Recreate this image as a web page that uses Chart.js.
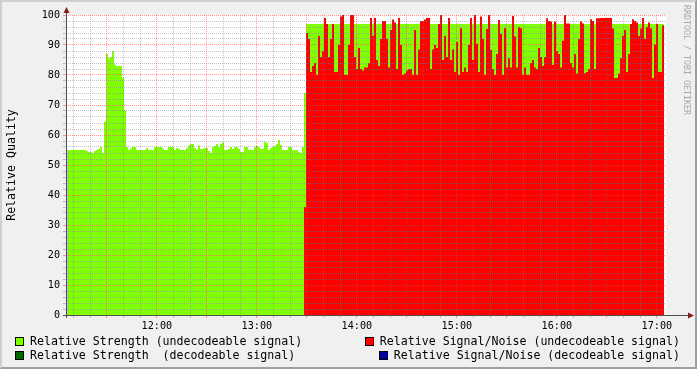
<!DOCTYPE html>
<html>
<head>
<meta charset="utf-8">
<script src="https://cdn.jsdelivr.net/npm/chart.js@4/dist/chart.umd.min.js"></script>
<style>
  body { margin: 0; background: #f0f0f0; }
  #wrap { position: relative; width: 697px; height: 369px; overflow: hidden; }
  #chart { position: absolute; left: 0; top: 0; }
  #frame { position: absolute; left: 0; top: 0; width: 697px; height: 369px; box-sizing: border-box;
           border: 2px solid; border-color: #cfcfcf #9e9e9e #9e9e9e #cfcfcf; pointer-events: none; }
  .lg { position: absolute; display: flex; align-items: center; height: 14px;
        font: 11.6px "DejaVu Sans Mono", monospace; white-space: pre; color: #000; }
  .lg i { display: inline-block; width: 7px; height: 7px; border: 1px solid #000; margin-right: 6px; }
  #mark { position: absolute; left: 687px; top: 60px; transform: translate(-50%, -50%) rotate(90deg);
          font: 8.3px "DejaVu Sans Mono", monospace; color: #a8a8a8; white-space: pre; }
</style>
</head>
<body>
<div id="wrap">
  <canvas id="chart" width="697" height="369"></canvas>
  <div class="lg" style="left:15px;top:334px"><i style="background:#7fff00"></i>Relative Strength (undecodeable signal)</div>
  <div class="lg" style="right:17px;top:334px"><i style="background:#ff0000"></i>Relative Signal/Noise (undecodeable signal)</div>
  <div class="lg" style="left:15px;top:348px"><i style="background:#006400"></i>Relative Strength  (decodeable signal)</div>
  <div class="lg" style="right:17px;top:348px"><i style="background:#000099"></i>Relative Signal/Noise (decodeable signal)</div>
  <div id="mark">RRDTOOL / TOBI OETIKER</div>
  <div id="frame"></div>
</div>
<script>
// time in minutes after midnight, one sample every 72 s
const t0 = 665.5;
const step = 1.2;

// relative strength, undecodeable signal, up to the switch at ~13:28
const strengthEarly = [
  55, 55, 55, 55, 55, 55, 55, 55, 55, 55, 54.7, 54.3, 54.3, 54, 54.7, 55, 55.3, 56, 54,
  64.4, 87, 85.6, 86, 88, 83.5, 83, 83, 83, 79, 68.3,
  56, 55, 55.5, 56, 56, 55, 55, 55, 55, 55,
  55.7, 55, 55, 55, 56, 56, 56, 56, 55.5, 55,
  55, 56, 56, 56, 55, 55.7, 55.3, 55, 55, 55,
  55.7, 56.5, 57, 57, 55.7, 55, 56.5, 55.3, 55.3, 55.7,
  55.7, 54.7, 54, 56, 56.3, 57, 56, 57, 57.5, 55,
  55, 55.3, 56, 55.3, 56, 56, 55.3, 54.3, 54.3, 56,
  56, 55, 55, 55, 56, 56.3, 56, 55.3, 55.5, 57.7,
  57.3, 55, 55.7, 56, 56.3, 57, 58.3, 56.7, 55, 55,
  55, 56, 56, 55, 55, 55, 54.3, 54, 56,
  74
];
// after the switch the strength sits flat at this level until the end
const strengthLate = 97;

// relative signal/noise, undecodeable signal, starts at sample 119
const snrStartIndex = 119;
const snrValues = [
  36,
  94, 92, 81, 83, 84, 80, 93, 86, 88, 99, 97, 86, 92, 97, 81, 81, 90, 99.5, 100, 80,
  80, 90, 100, 100, 86, 82, 89, 82, 81.5, 82.5, 82.5, 84, 99, 93, 99, 85, 83, 92, 98, 98,
  92, 82.5, 95, 98.5, 97.5, 82, 99,
  90, 80, 80.5, 81.5, 82, 82, 80, 95, 80, 88.5, 98, 98, 98.5, 99, 99, 82, 88.5, 90, 89, 97,
  100, 85, 93, 86, 99, 85, 88.5, 81, 91, 80, 95.6, 81, 82.5, 81, 90, 99, 85, 100, 90.4, 81,
  99.5, 92, 80, 95.3, 100, 88.3, 82, 80, 87, 98.3,
  93.7, 80, 95.6, 82.5, 85.6, 82.5, 99.7, 92.8, 82.5, 95.9, 95.6, 80, 82.5, 80, 80, 84, 85, 82.5, 82, 89,
  86, 83, 86, 98.9, 98, 97.8, 83.3, 97.8, 88, 87, 82.5, 91.4, 100, 97.2, 97.2, 84, 82.5, 87, 80.5, 92,
  97.8, 97.2, 80.6, 81, 82, 98.6, 98, 82, 98.9, 98.9,
  99, 99, 99, 99, 99, 99, 95.5, 79, 79, 80.5, 85.6, 93, 95, 81, 87, 97, 98.6, 98, 97.5, 93,
  95.5, 99, 92, 96, 97.5, 95.5, 79, 90.2, 97, 81, 81, 96.5
];

// decodeable signal: nothing was decoded in this window
const strengthDecoded = [];
const snrDecoded = [];

const hourLabels = ['12:00', '13:00', '14:00', '15:00', '16:00', '17:00'];
const seriesLabels = [
  'Relative Strength (undecodeable signal)',
  'Relative Signal/Noise (undecodeable signal)',
  'Relative Strength  (decodeable signal)',
  'Relative Signal/Noise (decodeable signal)'
];

const tEnd = t0 + (snrStartIndex + snrValues.length) * step;

const strengthPts = strengthEarly.map((v, i) => ({ x: t0 + i * step, y: v }));
strengthPts.push({ x: t0 + strengthEarly.length * step, y: strengthLate });
strengthPts.push({ x: tEnd, y: strengthLate });

const snrPts = snrValues.map((v, i) => ({ x: t0 + (snrStartIndex + i) * step, y: v }));
snrPts.push({ x: tEnd, y: snrValues[snrValues.length - 1] });

const hourMinutes = hourLabels.map(s => {
  const [h, m] = s.split(':').map(Number);
  return h * 60 + m;
});

const xGrid = [];
for (let m = Math.ceil(t0 / 10) * 10; m <= t0 + 360; m += 10) xGrid.push(m);
const yGrid = [];
for (let v = 0; v <= 100; v += 2) yGrid.push(v);

const MONO = '"DejaVu Sans Mono", monospace';
const minorGrid = 'rgba(128,128,128,0.45)';
const majorGrid = 'rgba(220,70,70,0.5)';

const rrdFrame = {
  id: 'rrdFrame',
  beforeDraw(chart) {
    const { ctx, chartArea: a } = chart;
    ctx.save();
    ctx.fillStyle = '#ffffff';
    ctx.fillRect(a.left, a.top, a.right - a.left, a.bottom - a.top);
    ctx.restore();
  },
  afterDraw(chart) {
    const { ctx, chartArea: a } = chart;
    const x0 = a.left + 0.5, y0 = a.bottom + 0.5;
    ctx.save();
    ctx.strokeStyle = '#505050';
    ctx.lineWidth = 1;
    ctx.beginPath();
    ctx.moveTo(x0, a.bottom + 3);
    ctx.lineTo(x0, a.top - 5);
    ctx.moveTo(a.left - 3, y0);
    ctx.lineTo(a.right + 23, y0);
    ctx.stroke();
    ctx.fillStyle = '#7f1f1f';
    ctx.beginPath();
    ctx.moveTo(x0, a.top - 8);
    ctx.lineTo(x0 - 3, a.top - 2);
    ctx.lineTo(x0 + 3, a.top - 2);
    ctx.closePath();
    ctx.fill();
    ctx.beginPath();
    ctx.moveTo(a.right + 28, y0);
    ctx.lineTo(a.right + 22, y0 - 3);
    ctx.lineTo(a.right + 22, y0 + 3);
    ctx.closePath();
    ctx.fill();
    ctx.restore();
  }
};

const area = (label, pts, color, order) => ({
  label: label,
  data: pts,
  stepped: true,
  fill: 'origin',
  backgroundColor: color,
  borderColor: 'rgba(0,0,0,0)',
  borderWidth: 0,
  pointRadius: 0,
  order: order
});

new Chart(document.getElementById('chart'), {
  type: 'line',
  data: {
    datasets: [
      area(seriesLabels[0], strengthPts, '#7fff00', 4),
      area(seriesLabels[1], snrPts, '#ff0000', 3),
      area(seriesLabels[2], strengthDecoded, '#006400', 2),
      area(seriesLabels[3], snrDecoded, '#000099', 1)
    ]
  },
  options: {
    responsive: false,
    animation: false,
    layout: { padding: { left: 0, top: 15, right: 31, bottom: 0 } },
    plugins: { legend: { display: false }, tooltip: { enabled: false } },
    scales: {
      x: {
        type: 'linear',
        min: t0,
        max: t0 + 360,
        afterBuildTicks: s => { s.ticks = xGrid.map(v => ({ value: v })); },
        afterFit: s => { s.height = 54; },
        ticks: {
          autoSkip: false,
          maxRotation: 0,
          padding: 2,
          color: '#000',
          font: { family: MONO, size: 10.15 },
          callback: v => {
            const i = hourMinutes.indexOf(v);
            return i >= 0 ? hourLabels[i] : '';
          }
        },
        grid: {
          z: 1,
          lineWidth: 1,
          tickLength: 3,
          color: c => (c.tick && c.tick.value % 30 === 0) ? majorGrid : minorGrid,
          tickColor: c => (c.tick && c.tick.value % 30 === 0) ? majorGrid : minorGrid
        },
        border: { display: false, dash: [1, 1] }
      },
      y: {
        min: 0,
        max: 100,
        afterBuildTicks: s => { s.ticks = yGrid.map(v => ({ value: v })); },
        afterFit: s => { s.width = 66; },
        ticks: {
          autoSkip: false,
          padding: 3,
          color: '#000',
          font: { family: MONO, size: 10.15 },
          callback: v => (v % 10 === 0 ? String(v) : '')
        },
        grid: {
          z: 1,
          lineWidth: 1,
          tickLength: 3,
          color: c => (c.tick && c.tick.value % 10 === 0) ? majorGrid : minorGrid,
          tickColor: c => (c.tick && c.tick.value % 10 === 0) ? majorGrid : minorGrid
        },
        border: { display: false, dash: [1, 1] },
        title: {
          display: true,
          text: 'Relative Quality',
          color: '#000',
          font: { family: MONO, size: 11.6 },
          padding: { top: 5, bottom: 0 }
        }
      }
    }
  },
  plugins: [rrdFrame]
});
</script>
</body>
</html>
